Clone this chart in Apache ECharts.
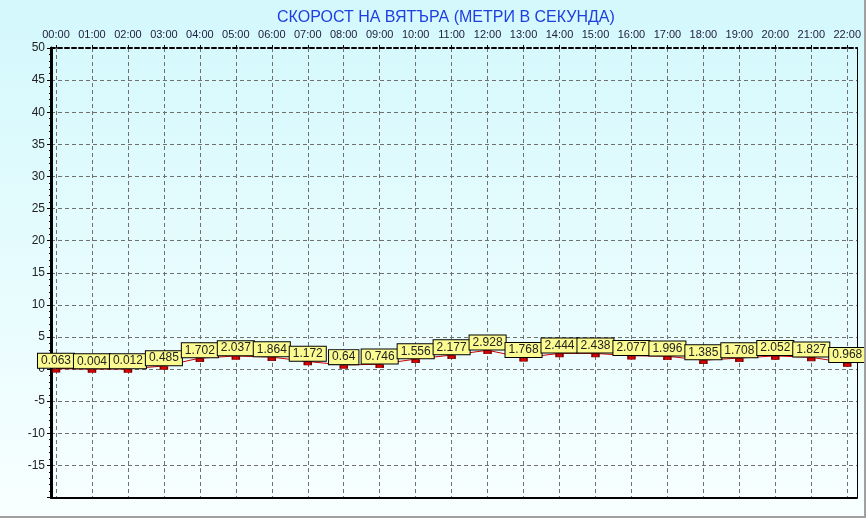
<!DOCTYPE html>
<html><head><meta charset="utf-8">
<script src="https://cdn.jsdelivr.net/npm/echarts@6/dist/echarts.min.js"></script>
<style>
html,body{margin:0;padding:0;background:#fff;}
#wrap{width:864px;height:516px;border-right:2px solid #a0a0a0;border-bottom:2px solid #a0a0a0;background:linear-gradient(#d3f8fc,#f8ffff);}
#c{width:864px;height:516px;}
</style></head><body><div id="wrap"><div id="c"></div></div>
<script>
const titleText = 'СКОРОСТ НА ВЯТЪРА (МЕТРИ В СЕКУНДА)';
const hours = ['00:00','01:00','02:00','03:00','04:00','05:00','06:00','07:00','08:00','09:00','10:00','11:00','12:00','13:00','14:00','15:00','16:00','17:00','18:00','19:00','20:00','21:00','22:00'];
const windSpeed = [0.063,0.004,0.012,0.485,1.702,2.037,1.864,1.172,0.64,0.746,1.556,2.177,2.928,1.768,2.444,2.438,2.077,1.996,1.385,1.708,2.052,1.827,0.968];
const yMin = -20, yMax = 50, yStep = 5;

const dash = {type:[4,3], color:'#707070', width:1};
const chart = echarts.init(document.getElementById('c'));
chart.setOption({
  animation:false,
  backgroundColor:'transparent',
  title:{text:titleText, left:272, top:5, textStyle:{fontFamily:'Liberation Sans, Arial', fontSize:16, fontWeight:'normal', color:'#1f3fe0'}},
  grid:[
    {left:56, right:11.3, top:48, bottom:18.5, containLabel:false},
    {left:51, right:7, top:48, bottom:18.5, containLabel:false}
  ],
  xAxis:[
    {gridIndex:0, type:'category', position:'top', data:hours, boundaryGap:false,
     axisLine:{show:false, onZero:false},
     axisTick:{show:true, length:3, alignWithLabel:true, lineStyle:{color:'#000'}},
     axisLabel:{interval:0, fontSize:11, color:'#222240', margin:8, fontFamily:'Liberation Sans, Arial'},
     splitLine:{show:true, interval:0, lineStyle:dash}},
    {gridIndex:1, type:'value', position:'bottom', min:0, max:1,
     axisLine:{show:true, onZero:false, lineStyle:{color:'#000', width:2}},
     axisTick:{show:false}, axisLabel:{show:false}, splitLine:{show:false}},
    {gridIndex:1, type:'value', position:'top', min:0, max:1,
     axisLine:{show:true, onZero:false, lineStyle:{color:'#000', width:2, type:[4,3]}},
     axisTick:{show:false}, axisLabel:{show:false}, splitLine:{show:false}}
  ],
  yAxis:[
    {gridIndex:0, type:'value', min:yMin, max:yMax, interval:yStep, show:false},
    {gridIndex:1, type:'value', position:'left', min:yMin, max:yMax, interval:yStep,
     axisLine:{show:true, onZero:false, lineStyle:{color:'#000', width:3}},
     axisTick:{show:true, length:4, lineStyle:{color:'#000'}},
     minorTick:{show:true, splitNumber:5, length:2, lineStyle:{color:'#000'}},
     axisLabel:{showMinLabel:false, fontSize:12, color:'#222', margin:6, fontFamily:'Liberation Sans, Arial'},
     splitLine:{show:true, lineStyle:dash}},
    {gridIndex:1, type:'value', position:'right', min:yMin, max:yMax, interval:yStep,
     axisLine:{show:true, onZero:false, lineStyle:{color:'#000', width:1}},
     axisTick:{show:false}, axisLabel:{show:false}, splitLine:{show:false}}
  ],
  series:[{
    type:'line', xAxisIndex:0, yAxisIndex:0, data:windSpeed,
    showAllSymbol:true, symbol:'rect', symbolSize:[7,3], symbolOffset:[0,2],
    lineStyle:{color:'#cc0000', width:1},
    itemStyle:{color:'#dd0000', borderColor:'#7a0000', borderWidth:1},
    label:{show:true, position:'top', distance:1, fontSize:12, lineHeight:12, color:'#222',
      fontFamily:'Liberation Sans, Arial',
      backgroundColor:'#fbfb92', borderColor:'#000', borderWidth:1, padding:[1,3]},
    labelLayout:{hideOverlap:false},
    emphasis:{disabled:true}
  }]
});
</script></body></html>
